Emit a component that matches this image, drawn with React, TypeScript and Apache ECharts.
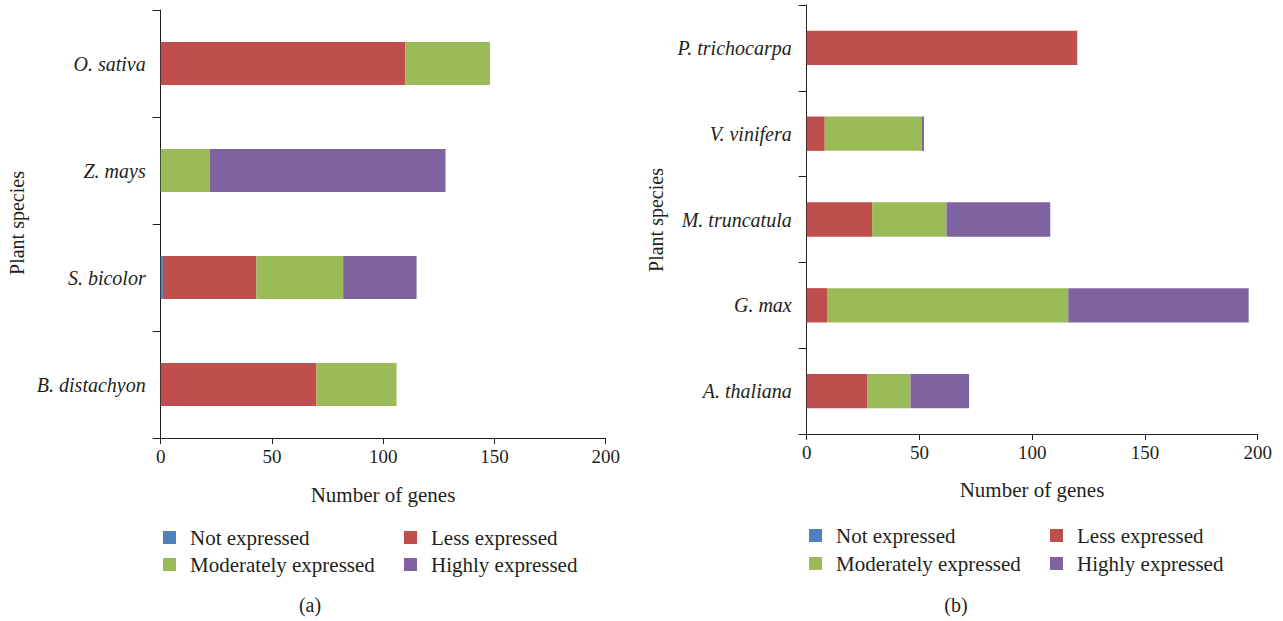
import React, { useEffect, useRef } from "react";
import * as echarts from "echarts";

const seriesNames = ["Not expressed", "Less expressed", "Moderately expressed", "Highly expressed"];
const seriesColors = ["#4F81BD", "#BE4F4C", "#9BBB59", "#7F63A0"];

const leftCategories = ["O. sativa", "Z. mays", "S. bicolor", "B. distachyon"];
const leftNot = [0, 0, 1, 0];
const leftLess = [110, 0, 42, 70];
const leftModerate = [38, 22, 39, 36];
const leftHighly = [0, 106, 33, 0];

const rightCategories = ["P. trichocarpa", "V. vinifera", "M. truncatula", "G. max", "A. thaliana"];
const rightNot = [0, 0, 0, 0, 0];
const rightLess = [120, 8, 29, 9, 27];
const rightModerate = [0, 43, 33, 107, 19];
const rightHighly = [0, 1, 46, 80, 26];

const xTicks = { min: 0, max: 200, interval: 50 };

const FONT = "'Liberation Serif', 'DejaVu Serif', serif";
const INK = "#231F20";

export default function App() {
  const ref = useRef<HTMLDivElement>(null);
  useEffect(() => {
    if (!ref.current) return;
    const chart = echarts.init(ref.current, null, { renderer: "svg" });

    const xAxisBase = (gridIndex: number) => ({
      type: "value",
      gridIndex,
      min: xTicks.min,
      max: xTicks.max,
      interval: xTicks.interval,
      splitLine: { show: false },
      axisLine: { show: true, lineStyle: { color: INK, width: 1 } },
      axisTick: { show: true, length: 6, lineStyle: { color: INK } },
      axisLabel: { color: INK, fontFamily: FONT, fontSize: 19, margin: 9 },
    });
    const yAxisBase = (gridIndex: number, data: string[]) => ({
      type: "category",
      gridIndex,
      data,
      inverse: true,
      axisLine: { show: true, lineStyle: { color: INK, width: 1 } },
      axisTick: { show: true, length: 8, lineStyle: { color: INK } },
      axisLabel: { color: INK, fontFamily: FONT, fontSize: 20, fontStyle: "italic", margin: 15 },
    });

    const leftData = [leftNot, leftLess, leftModerate, leftHighly];
    const rightData = [rightNot, rightLess, rightModerate, rightHighly];
    const series: any[] = [];
    leftData.forEach((d, i) =>
      series.push({
        name: seriesNames[i],
        type: "bar",
        stack: "left",
        xAxisIndex: 0,
        yAxisIndex: 0,
        barWidth: "40%",
        data: d,
        itemStyle: { color: seriesColors[i] },
      })
    );
    rightData.forEach((d, i) =>
      series.push({
        name: seriesNames[i],
        type: "bar",
        stack: "right",
        xAxisIndex: 1,
        yAxisIndex: 1,
        barWidth: "40%",
        data: d,
        itemStyle: { color: seriesColors[i] },
      })
    );

    const legendPos = [
      // left chart
      [163, 527, 0], [404, 527, 1], [163, 554, 2], [404, 554, 3],
      // right chart
      [809, 525, 0], [1050, 525, 1], [809, 553, 2], [1050, 553, 3],
    ];
    const legends = legendPos.map(([x, y, i]) => ({
      left: x,
      top: y,
      padding: 0,
      itemWidth: 13,
      itemHeight: 13,
      icon: "rect",
      selectedMode: false,
      data: [seriesNames[i]],
      textStyle: { color: INK, fontFamily: FONT, fontSize: 21, padding: [0, 0, 0, 9] },
    }));

    const txt = (text: string, x: number, y: number, rot = 0, size = 21) => ({
      type: "text",
      x,
      y,
      rotation: rot,
      style: {
        text,
        font: `${size}px ${FONT}`,
        fill: INK,
        textAlign: "center",
        textVerticalAlign: "middle",
      },
    });

    chart.setOption({
      animation: false,
      backgroundColor: "#ffffff",
      grid: [
        { left: 160.7, top: 10, width: 445, height: 428 },
        { left: 806.7, top: 5, width: 451, height: 429 },
      ],
      xAxis: [xAxisBase(0), xAxisBase(1)],
      yAxis: [yAxisBase(0, leftCategories), yAxisBase(1, rightCategories)],
      legend: legends,
      series,
      graphic: [
        txt("Number of genes", 383, 495),
        txt("Number of genes", 1032, 490),
        txt("Plant species", 17, 223, Math.PI / 2, 20),
        txt("Plant species", 656, 220, Math.PI / 2, 20),
        txt("(a)", 310, 605, 0, 20),
        txt("(b)", 956, 605, 0, 20),
      ],
    });
    return () => chart.dispose();
  }, []);
  return (
    <div
      ref={ref}
      style={{ position: "fixed", left: 0, top: 0, width: 1283, height: 621, background: "#fff" }}
    />
  );
}
